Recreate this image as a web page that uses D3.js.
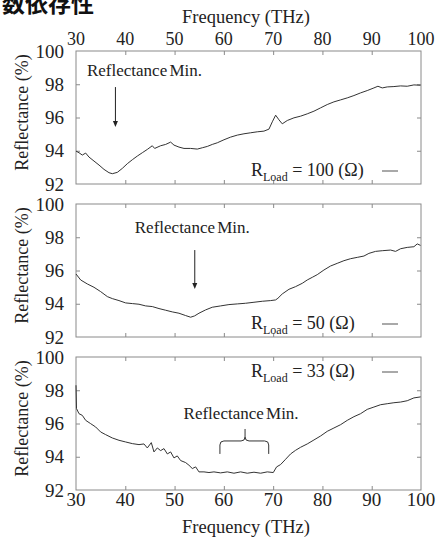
<!DOCTYPE html>
<html lang="en"><head><meta charset="utf-8">
<script src="https://cdn.jsdelivr.net/npm/d3@7"></script>
</head>
<body style="margin:0;position:relative;overflow:hidden;width:437px;height:538px">
<script>
// ---------------- data ----------------
const xTicks = [30, 40, 50, 60, 70, 80, 90, 100];
const yTicks = [92, 94, 96, 98, 100];
const loadLabels = ["100", "50", "33"];
const headerText = "数依存性";

const freq100 = [30.0,30.61,31.28,31.96,32.64,33.65,34.67,35.68,36.69,37.37,38.38,39.40,40.41,41.43,42.44,43.45,44.47,45.48,45.96,47.17,48.19,49.20,49.88,50.89,51.91,53.26,54.61,55.63,56.64,57.65,58.67,60.02,61.37,62.73,64.08,65.43,66.78,68.13,69.15,69.83,70.51,71.18,71.85,72.87,74.22,75.57,76.92,78.28,79.63,80.98,82.33,83.69,85.04,86.39,87.74,89.09,90.45,91.26,92.14,93.15,94.50,95.86,97.21,98.56,99.9];
const refl100 = [93.98,93.88,93.74,93.86,93.62,93.38,93.14,92.88,92.68,92.62,92.70,92.94,93.22,93.46,93.68,93.88,94.08,94.30,94.14,94.30,94.38,94.52,94.34,94.22,94.14,94.14,94.10,94.18,94.26,94.38,94.48,94.66,94.82,94.94,95.02,95.08,95.14,95.18,95.30,95.74,96.14,95.86,95.62,95.82,95.98,96.08,96.22,96.38,96.58,96.78,96.94,97.06,97.18,97.32,97.48,97.62,97.78,97.88,97.78,97.84,97.86,97.90,97.88,97.96,97.94];

const freq50 = [30.0,30.95,32.30,33.65,35.00,36.36,37.37,38.72,40.07,41.43,42.78,44.13,45.48,46.84,48.19,49.54,50.89,52.24,53.26,54.07,54.95,56.30,57.65,59.34,61.03,62.73,64.42,66.11,67.80,69.49,70.50,70.97,71.85,73.21,74.55,75.91,76.92,77.94,78.95,80.30,81.65,83.00,84.36,85.71,87.07,88.42,89.43,90.78,92.14,93.83,94.84,95.86,97.21,98.56,99.24,99.9];
const refl50 = [95.79,95.43,95.19,94.99,94.73,94.43,94.31,94.19,94.05,94.01,93.97,93.87,93.83,93.71,93.61,93.51,93.43,93.29,93.19,93.27,93.43,93.63,93.79,93.87,93.95,93.99,94.03,94.09,94.15,94.19,94.23,94.33,94.59,94.87,95.03,95.23,95.43,95.59,95.75,96.03,96.27,96.43,96.59,96.71,96.79,96.87,97.03,97.15,97.19,97.23,97.15,97.31,97.39,97.43,97.60,97.51];

const freq33 = [30.0,30.1,30.61,31.28,31.96,32.98,33.99,35.00,36.02,37.37,38.72,40.07,41.43,42.78,43.79,44.47,45.28,45.82,46.50,47.17,47.85,48.53,49.20,49.88,50.55,51.23,52.24,52.92,53.60,54.28,54.95,55.96,56.98,57.99,59.34,60.70,62.05,63.40,64.75,66.11,67.46,68.81,70.03,70.70,71.51,72.53,73.54,74.56,75.57,76.92,78.28,79.63,80.98,82.33,83.69,85.04,86.39,87.74,89.09,90.45,91.80,93.15,94.50,95.86,97.21,98.56,99.92];
const refl33 = [98.3,96.9,96.59,96.49,96.19,95.99,95.79,95.49,95.33,95.13,94.99,94.89,94.79,94.73,94.77,94.53,94.85,94.29,94.53,94.37,94.49,94.17,94.29,93.93,94.05,93.77,93.65,93.49,93.29,93.39,93.09,93.09,93.05,93.09,93.03,93.09,93.01,93.09,93.01,93.07,93.01,93.09,93.05,93.39,93.53,93.85,94.17,94.39,94.57,94.77,95.01,95.25,95.53,95.73,95.93,96.19,96.41,96.59,96.85,96.99,97.13,97.19,97.25,97.29,97.37,97.54,97.60];

// ---------------- layout ----------------
const W = 437, H = 538;
const left = 76, right = 421;
const panels = [
  {top: 51,  bottom: 184, f: freq100, r: refl100, load: loadLabels[0]},
  {top: 204, bottom: 337, f: freq50,  r: refl50,  load: loadLabels[1]},
  {top: 357, bottom: 490, f: freq33,  r: refl33,  load: loadLabels[2]}
];
const ink = "#222";
const frameCol = "#8a8a8a";

const svg = d3.select("body").append("svg").attr("width", W).attr("height", H)
  .style("display", "block");

const x = d3.scaleLinear().domain([30, 100]).range([left, right]);

const stext = (sel) => sel.style("font-family", '"Liberation Serif"').attr("fill", ink);

svg.append("text").call(stext).attr("x", 246).attr("y", 23).attr("text-anchor", "middle")
  .attr("font-size", 18.5).text("Frequency (THz)");
svg.append("text").call(stext).attr("x", 246).attr("y", 533).attr("text-anchor", "middle")
  .attr("font-size", 18.5).text("Frequency (THz)");

panels.forEach((p, i) => {
  const y = d3.scaleLinear().domain([92, 100]).range([p.bottom, p.top]);
  const g = svg.append("g");

  g.append("rect").attr("x", left).attr("y", p.top)
    .attr("width", right - left).attr("height", p.bottom - p.top)
    .attr("fill", "none").attr("stroke", frameCol).attr("stroke-width", 1);

  const tx = xTicks.slice(1, -1), ty = yTicks.slice(1, -1);
  const axStyle = sel => {
    sel.select(".domain").remove();
    sel.selectAll(".tick line").attr("stroke", frameCol);
    sel.selectAll(".tick text").remove();
  };
  g.append("g").attr("transform", `translate(0,${p.top})`)
    .call(d3.axisBottom(x).tickValues(tx).tickSize(4)).call(axStyle);
  g.append("g").attr("transform", `translate(0,${p.bottom})`)
    .call(d3.axisTop(x).tickValues(tx).tickSize(4)).call(axStyle);
  g.append("g").attr("transform", `translate(${left},0)`)
    .call(d3.axisRight(y).tickValues(ty).tickSize(4)).call(axStyle);
  g.append("g").attr("transform", `translate(${right},0)`)
    .call(d3.axisLeft(y).tickValues(ty).tickSize(4)).call(axStyle);

  g.selectAll(".yl").data(yTicks).join("text").call(stext)
    .attr("x", left - 12).attr("y", d => y(d)).attr("dy", "0.35em")
    .attr("text-anchor", "end").attr("font-size", 19).text(d => d);

  g.append("text").call(stext)
    .attr("transform", `translate(28,${(p.top + p.bottom) / 2 - 5}) rotate(-90)`)
    .attr("text-anchor", "middle").attr("font-size", 18).text("Reflectance (%)");

  const data = p.f.map((f, k) => [f, p.r[k]]);
  g.append("path").datum(data)
    .attr("d", d3.line().x(d => x(d[0])).y(d => y(d[1])))
    .attr("fill", "none").attr("stroke", "#333").attr("stroke-width", 1);

  const ly = i === 2 ? p.top + 20 : p.bottom - 8;
  const t = g.append("text").call(stext).attr("x", 251).attr("y", ly).attr("font-size", 18);
  t.append("tspan").text("R");
  t.append("tspan").attr("font-size", 12).attr("dy", 5).text("Load");
  t.append("tspan").attr("dy", -5).attr("xml:space", "preserve")
    .text(" = " + p.load + " (Ω)");
  g.append("line").attr("x1", 382).attr("x2", 398)
    .attr("y1", ly - 5).attr("y2", ly - 5)
    .attr("stroke", "#8c8c8c").attr("stroke-width", 1.5);
});

const yP = i => d3.scaleLinear().domain([92, 100]).range([panels[i].bottom, panels[i].top]);
const annot = [
  {panel: 0, tx: 43.9, ty: 98.5},
  {panel: 1, tx: 53.6, ty: 98.26},
  {panel: 2, tx: 63.5, ty: 96.27}
];
annot.forEach(a => {
  svg.append("text").call(stext).attr("x", x(a.tx)).attr("y", yP(a.panel)(a.ty))
    .attr("text-anchor", "middle").attr("font-size", 17)
    .attr("word-spacing", -2).text("Reflectance Min.");
});

const arrows = [
  {panel: 0, f: 38.0, from: 97.83, to: 95.43},
  {panel: 1, f: 54.1, from: 97.23, to: 94.89}
];
arrows.forEach(a => {
  const ys = yP(a.panel), ax = x(a.f);
  svg.append("line").attr("x1", ax).attr("x2", ax)
    .attr("y1", ys(a.from)).attr("y2", ys(a.to) - 4)
    .attr("stroke", "#222").attr("stroke-width", 1);
  svg.append("path")
    .attr("d", `M${ax - 2.5},${ys(a.to) - 6} L${ax + 2.5},${ys(a.to) - 6} L${ax},${ys(a.to)} Z`)
    .attr("fill", "#222");
});

{
  const ys = yP(2);
  const xl = x(59.2), xr = x(69.1), xc = x(64.3);
  const yt = ys(94.95), yb = ys(94.17), yk = ys(95.67);
  svg.append("path")
    .attr("d", `M${xl},${yb} L${xl},${yt + 4} Q${xl},${yt} ${xl + 4},${yt} L${xc - 4},${yt} Q${xc},${yt} ${xc},${yt - 4} L${xc},${yk} M${xc},${yt - 4} Q${xc},${yt} ${xc + 4},${yt} L${xr - 4},${yt} Q${xr},${yt} ${xr},${yt + 4} L${xr},${yb}`)
    .attr("fill", "none").attr("stroke", "#333").attr("stroke-width", 1);
}

svg.selectAll(".xt").data(xTicks).join("text").call(stext)
  .attr("x", d => x(d)).attr("y", 45).attr("text-anchor", "middle")
  .attr("font-size", 18).text(d => d);
svg.selectAll(".xb").data(xTicks).join("text").call(stext)
  .attr("x", d => x(d)).attr("y", 506).attr("text-anchor", "middle")
  .attr("font-size", 19).text(d => d);

// partial Japanese header at top-left (HTML text, lang ja)
d3.select("body").append("div")
  .attr("lang", "ja")
  .style("position", "absolute").style("left", "2px").style("top", "-9px")
  .style("font-family", '"Noto Sans CJK JP"').style("font-weight", "bold")
  .style("font-size", "23px").style("line-height", "23px").style("color", "#111")
  .style("white-space", "nowrap")
  .text(headerText);
</script>
</body></html>
